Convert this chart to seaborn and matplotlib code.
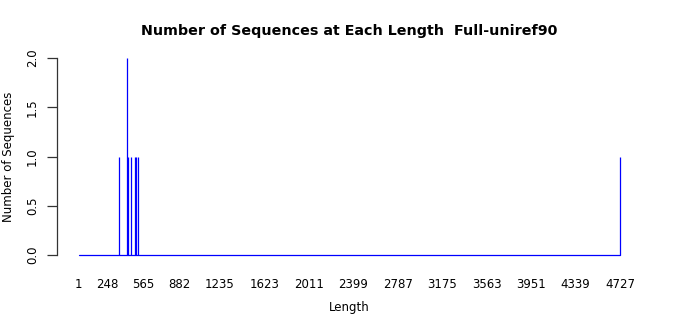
import matplotlib
matplotlib.use("Agg")
import matplotlib.pyplot as plt
import seaborn as sns
import pandas as pd

lengths = [350, 422, 430, 460, 495, 505, 522, 4727]
counts = [1, 2, 1, 1, 1, 1, 1, 1]
xticks = [1, 248, 565, 882, 1235, 1623, 2011, 2399, 2787, 3175, 3563, 3951, 4339, 4727]
yticks = [0.0, 0.5, 1.0, 1.5, 2.0]
title = "Number of Sequences at Each Length  Full-uniref90"

sns.set_style("white")
plt.rcParams['font.family'] = ['DejaVu Sans']
plt.rcParams['text.color'] = 'black'
plt.rcParams['axes.labelcolor'] = 'black'
plt.rcParams['xtick.color'] = 'black'
plt.rcParams['ytick.color'] = 'black'

df = pd.DataFrame({"Length": lengths, "Count": counts})

fig = plt.figure(figsize=(7, 3.15), dpi=100)
ax = fig.add_axes([57/700, 1-263/315, (641.6-57)/700, (263-50)/315])

# baseline at zero across the length range
base = pd.DataFrame({"Length": [xticks[0], xticks[-1]], "Count": [0, 0]})
sns.lineplot(data=base, x="Length", y="Count", ax=ax, color="#0000ff", lw=0.9)
ax.vlines(df["Length"], 0, df["Count"], color="#0000ff", lw=0.9)

lo, hi = xticks[0], xticks[-1]
r = hi - lo
ax.set_xlim(lo - 0.04*r, hi + 0.04*r)
ax.set_ylim(-0.08, 2.08)
ax.set_xticks(xticks)
ax.set_xticklabels([str(t) for t in xticks], fontsize=8.5)
ax.set_yticks(yticks)
ax.set_yticklabels([f"{t:.1f}" for t in yticks], fontsize=8.5, rotation=90, va="center")
ax.tick_params(axis="x", length=0, pad=11, labelcolor="black")
ax.tick_params(axis="y", length=7, width=0.9, pad=6, left=True, color="#333333", labelcolor="black")
for s in ["top", "right", "bottom"]:
    ax.spines[s].set_visible(False)
ax.spines["left"].set_bounds(0, 2)
ax.spines["left"].set_color("#333333")
ax.spines["left"].set_linewidth(0.9)

ax.set_xlabel("Length", fontsize=8.5, labelpad=7, color="black")
ax.set_ylabel("Number of Sequences", fontsize=8.5, labelpad=8, color="black")
ax.set_title(title, fontsize=10.25, fontweight="bold", pad=11, color="black")

fig.savefig("out.png", dpi=100)
